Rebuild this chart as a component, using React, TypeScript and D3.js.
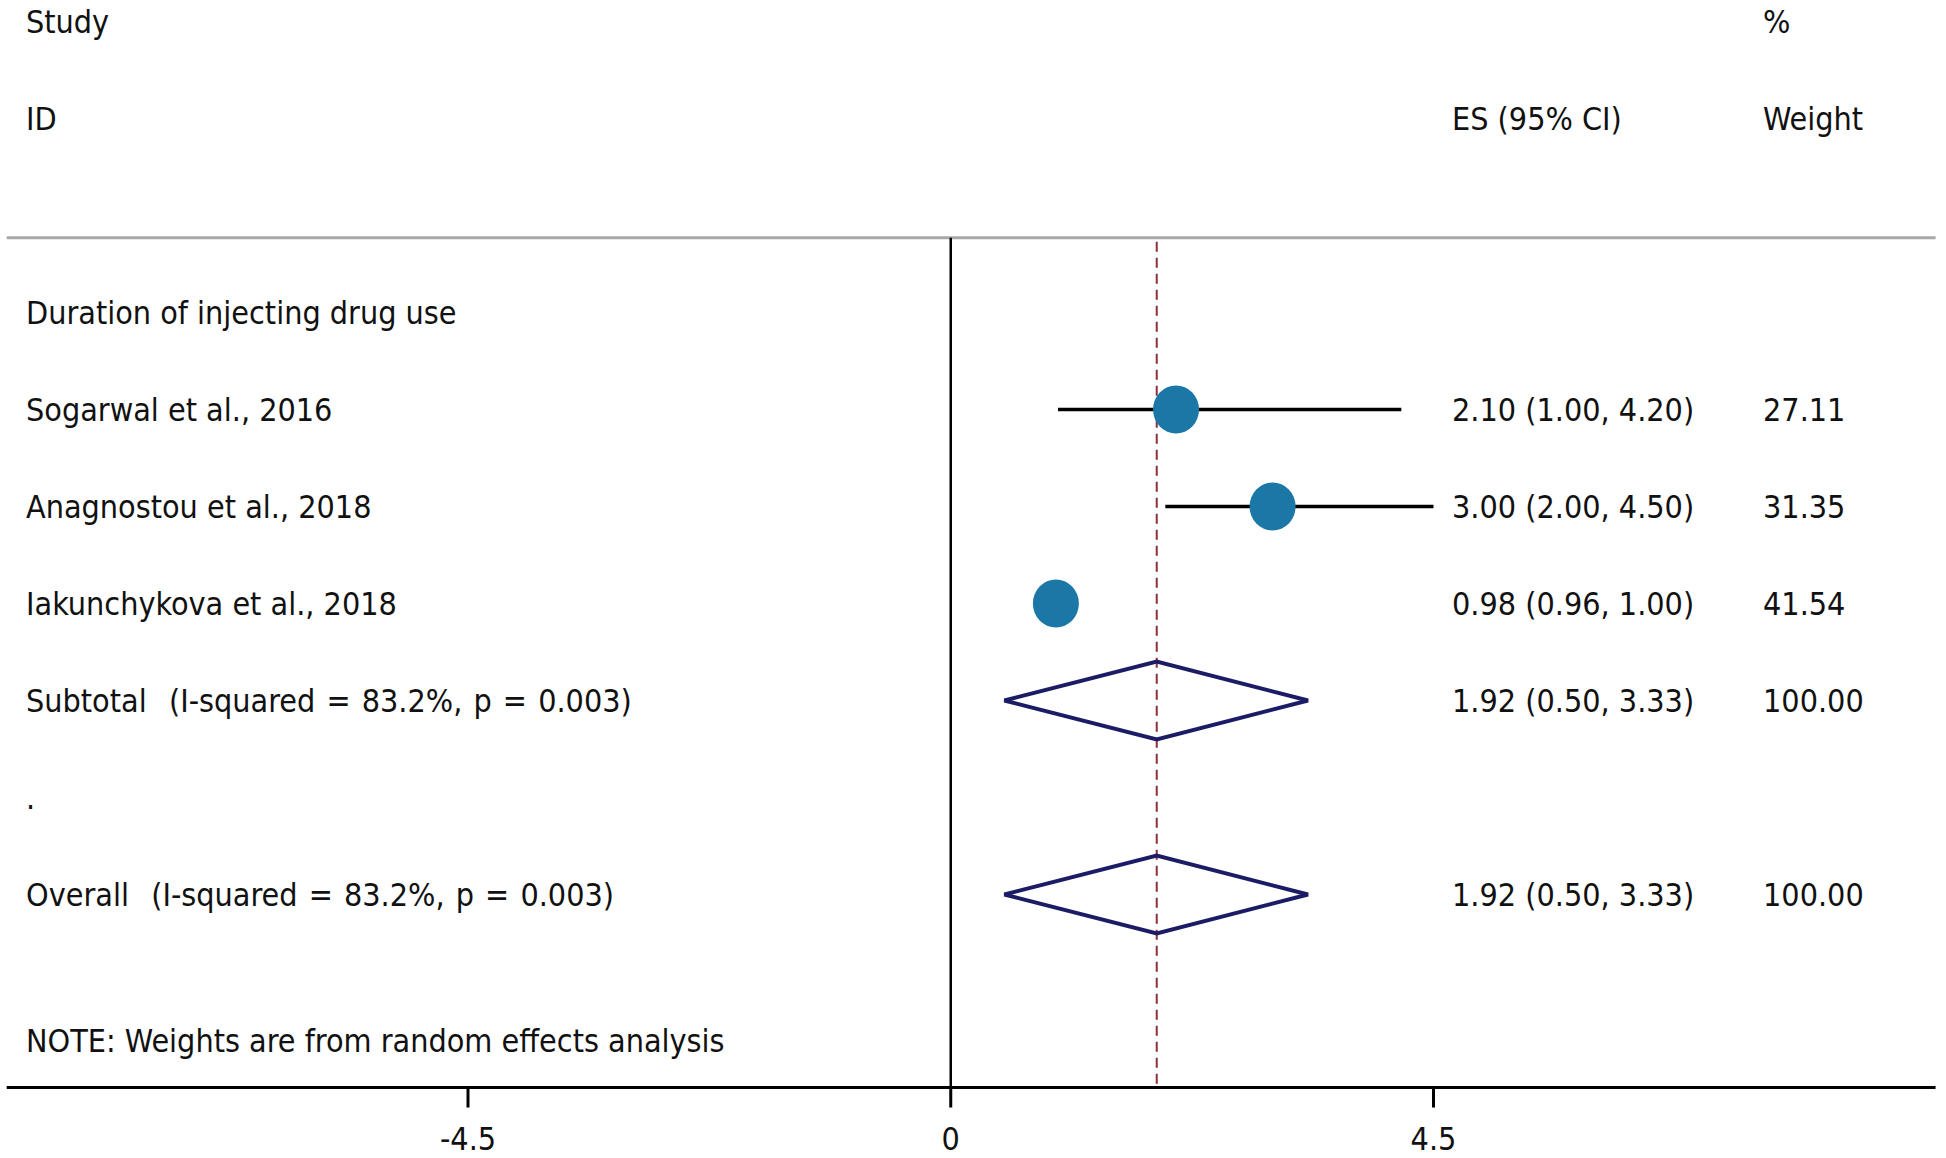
import React from "react";
import * as d3 from "d3";

// ---- data ----
const headerLeft = ["Study", "ID"];
const headerES = "ES (95% CI)";
const headerWeightTop = "%";
const headerWeight = "Weight";
const groupLabel = "Duration of injecting drug use";
const studies = ["Sogarwal et al., 2016", "Anagnostou et al., 2018", "Iakunchykova et al., 2018"];
const es = [2.1, 3.0, 0.98];
const lo = [1.0, 2.0, 0.96];
const hi = [4.2, 4.5, 1.0];
const weights = [27.11, 31.35, 41.54];
const pooledLabels = ["Subtotal  (I-squared = 83.2%, p = 0.003)", "Overall  (I-squared = 83.2%, p = 0.003)"];
const pooledES = [1.92, 1.92];
const pooledLo = [0.5, 0.5];
const pooledHi = [3.33, 3.33];
const pooledWeight = [100.0, 100.0];
const noteText = "NOTE: Weights are from random effects analysis";
const xTicks = [-4.5, 0, 4.5];
const xTickLabels = ["-4.5", "0", "4.5"];
const axisExtent = [-8.8, 9.18];

const W = 1946;
const H = 1158;
const FONT = "'DejaVu Sans Condensed', 'DejaVu Sans', sans-serif";
const FS = 32;

export default function App() {
  const x = d3.scaleLinear().domain([-4.5, 4.5]).range([468, 1433.5]);
  const row = d3.scaleLinear().domain([0, 1]).range([21.5, 118.5]);
  const base = (i: number) => row(i) + 11.5;

  const fmt = d3.format(".2f");
  const esText = (e: number, l: number, h: number) => `${fmt(e)} (${fmt(l)}, ${fmt(h)})`;

  const xLeft = 26;
  const xES = 1452;
  const xW = 1763;

  const topLineY = row(2.23);
  const axisY = row(10.99);

  const textStyle: React.CSSProperties = { whiteSpace: "pre" };
  const t = (key: string, xx: number, yy: number, s: string, anchor: string = "start", ws: number = 0) => (
    <text key={key} x={xx} y={yy} textAnchor={anchor as any} style={{ ...textStyle, wordSpacing: ws }}>
      {s}
    </text>
  );

  const diamond = (e: number, l: number, h: number, cy: number) => {
    const hh = 39;
    const pts: [number, number][] = [
      [x(l), cy],
      [x(e), cy - hh],
      [x(h), cy],
      [x(e), cy + hh],
    ];
    return d3.line()(pts.concat([pts[0]])) + "Z";
  };

  const pooledRows = [7, 9];

  return (
    <svg
      width={W}
      height={H}
      style={{ position: "absolute", left: 0, top: 0, background: "#fff" }}
      fontFamily={FONT}
      fontSize={FS}
      fill="#111"
    >
      <rect x={0} y={0} width={W} height={H} fill="#fff" />
      <g style={{ fontStretch: "condensed" } as any}>
        {/* header */}
        {t("h0", xLeft, base(0), headerLeft[0])}
        {t("h1", xLeft, base(1), headerLeft[1])}
        {t("hes", xES, base(1), headerES)}
        {t("hwt", xW, base(0), headerWeightTop)}
        {t("hw", xW, base(1), headerWeight)}
        {t("grp", xLeft, base(3), groupLabel)}
        {studies.map((s, i) => t("s" + i, xLeft, base(4 + i), s))}
        {studies.map((s, i) => t("e" + i, xES, base(4 + i), esText(es[i], lo[i], hi[i])))}
        {studies.map((s, i) => t("w" + i, xW, base(4 + i), fmt(weights[i])))}
        {pooledLabels.map((s, i) => t("pl" + i, xLeft, base(pooledRows[i]), s, "start", 2))}
        {pooledLabels.map((s, i) =>
          t("pe" + i, xES, base(pooledRows[i]), esText(pooledES[i], pooledLo[i], pooledHi[i]))
        )}
        {pooledLabels.map((s, i) => t("pw" + i, xW, base(pooledRows[i]), fmt(pooledWeight[i])))}
        {t("dot", xLeft, base(8), ".")}
        {t("note", xLeft, base(10.5), noteText)}
        {xTicks.map((v, i) => t("tl" + i, x(v), 1150, xTickLabels[i], "middle"))}
      </g>

      {/* top grey rule */}
      <line x1={x(axisExtent[0])} x2={x(axisExtent[1])} y1={topLineY} y2={topLineY} stroke="#a8a8a8" strokeWidth={3} />

      {/* null line */}
      <line x1={x(0)} x2={x(0)} y1={topLineY} y2={axisY} stroke="#000" strokeWidth={2.5} />

      {/* pooled effect dashed line */}
      <line
        x1={x(pooledES[1])}
        x2={x(pooledES[1])}
        y1={topLineY + 4}
        y2={axisY}
        stroke="#8c2f39"
        strokeWidth={2}
        strokeDasharray="10 6"
      />

      {/* CI lines and markers */}
      {studies.map((s, i) => (
        <g key={"m" + i}>
          <line x1={x(lo[i])} x2={x(hi[i])} y1={row(4 + i)} y2={row(4 + i)} stroke="#000" strokeWidth={3.6} />
          <ellipse cx={x(es[i])} cy={row(4 + i)} rx={23} ry={24} fill="#1b77a6" />
        </g>
      ))}

      {/* diamonds */}
      {pooledRows.map((r, i) => (
        <path
          key={"d" + i}
          d={diamond(pooledES[i], pooledLo[i], pooledHi[i], row(r))}
          fill="none"
          stroke="#1c1c66"
          strokeWidth={4}
          strokeLinejoin="miter"
        />
      ))}

      {/* x axis */}
      <line x1={x(axisExtent[0])} x2={x(axisExtent[1])} y1={axisY} y2={axisY} stroke="#000" strokeWidth={3} />
      {xTicks.map((v, i) => (
        <line key={"tk" + i} x1={x(v)} x2={x(v)} y1={axisY} y2={axisY + 20} stroke="#000" strokeWidth={3} />
      ))}
    </svg>
  );
}
